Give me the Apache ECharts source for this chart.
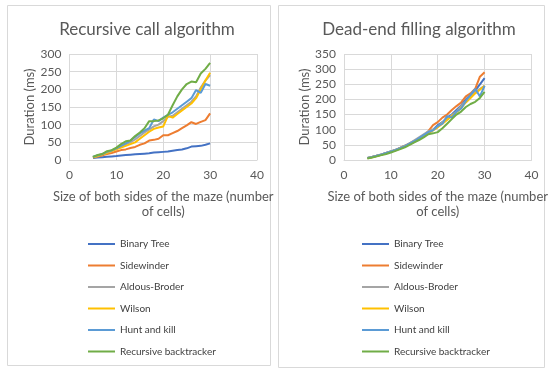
<!DOCTYPE html>
<html>
<head>
<meta charset="utf-8">
<script src="https://cdn.jsdelivr.net/npm/echarts@6/dist/echarts.min.js"></script>
<style>html,body{margin:0;padding:0;background:#fff}#c{width:550px;height:376px}</style>
</head>
<body>
<div id="c"></div>
<script>
const sizes = [5,6,7,8,9,10,11,12,13,14,15,16,17,18,19,20,21,22,23,24,25,26,27,28,29,30];
const seriesNames = ['Binary Tree','Sidewinder','Aldous-Broder','Wilson','Hunt and kill','Recursive backtracker'];
const colors = ['#4472C4','#ED7D31','#A5A5A5','#FFC000','#5B9BD5','#70AD47'];

// Recursive call algorithm (ms)
const recBinaryTree = [6,7,8,9,10,11,13,14,15,16,17,18,19,21,22,23,24,26,28,30,33,38,39,40,43,47];
const recSidewinder = [7,10,13,17,20,24,28,30,34,37,43,47,55,57,60,70,70,76,82,90,98,107,102,108,113,132];
const recAldousBroder = [8,12,16,21,26,32,38,44,50,58,68,78,86,95,100,110,122,125,135,145,155,165,180,205,225,240];
const recWilson = [8,11,16,20,25,30,35,40,45,50,60,70,80,88,92,95,125,120,130,140,150,160,175,200,225,247];
const recHuntKill = [9,13,17,23,27,33,40,47,55,65,75,83,90,115,110,120,128,135,145,155,165,175,198,190,215,210];
const recBacktracker = [9,14,17,25,28,35,45,53,55,68,78,90,110,110,112,118,128,155,180,200,215,222,220,245,258,275];

// Dead-end filling algorithm (ms)
const defBinaryTree = [7,10,14,18,23,28,33,40,47,55,62,70,80,90,100,115,125,140,150,165,180,200,215,230,250,270];
const defSidewinder = [7,10,14,18,23,28,33,40,47,55,63,72,82,95,115,125,140,150,165,178,190,210,220,235,275,290];
const defAldousBroder = [7,10,14,18,23,28,33,40,47,55,65,75,85,95,100,110,125,135,148,160,178,195,210,225,235,245];
const defWilson = [6,9,13,17,22,27,32,38,45,52,60,70,80,88,98,108,120,132,145,158,172,190,205,220,232,245];
const defHuntKill = [7,10,14,18,23,28,33,39,46,54,62,72,82,92,98,112,120,145,140,160,170,195,215,235,210,245];
const defBacktracker = [5,8,12,16,20,25,30,36,42,50,58,66,75,85,88,92,105,120,135,150,160,175,185,192,205,225];

const recData = [recBinaryTree,recSidewinder,recAldousBroder,recWilson,recHuntKill,recBacktracker];
const defData = [defBinaryTree,defSidewinder,defAldousBroder,defWilson,defHuntKill,defBacktracker];

const FONT = 'Lato';
const txt = '#595959';
const grid = '#d9d9d9';

function xAxis(gi){
  return {
    type:'value', gridIndex:gi, min:0, max:40, interval:10,
    name:'Size of both sides of the maze (number\nof cells)',
    nameLocation:'middle', nameGap:29,
    nameTextStyle:{color:txt,fontSize:13,fontFamily:FONT,lineHeight:15,verticalAlign:'top'},
    axisLine:{show:true,lineStyle:{color:grid}},
    axisTick:{show:false},
    axisLabel:{color:txt,fontSize:12,fontFamily:FONT,margin:9},
    splitLine:{show:true,lineStyle:{color:grid,width:1}}
  };
}
function yAxis(gi,max){
  return {
    type:'value', gridIndex:gi, min:0, max:max, interval:50,
    name:'Duration (ms)', nameLocation:'middle', nameGap:33,
    nameTextStyle:{color:txt,fontSize:13,fontFamily:FONT},
    axisLine:{show:false}, axisTick:{show:false},
    axisLabel:{color:txt,fontSize:12,fontFamily:FONT,margin:8},
    splitLine:{show:true,lineStyle:{color:grid,width:1}}
  };
}
const series = [];
seriesNames.forEach((n,i)=>{
  series.push({name:n,type:'line',xAxisIndex:0,yAxisIndex:0,showSymbol:false,
    lineStyle:{width:2,color:colors[i]},itemStyle:{color:colors[i]},
    data:sizes.map((s,k)=>[s,recData[i][k]])});
});
seriesNames.forEach((n,i)=>{
  series.push({name:n,type:'line',xAxisIndex:1,yAxisIndex:1,showSymbol:false,
    lineStyle:{width:2,color:colors[i]},itemStyle:{color:colors[i]},
    data:sizes.map((s,k)=>[s,defData[i][k]])});
});
function legend(left){
  return {orient:'vertical',left:left,top:233,data:seriesNames,icon:'rect',
    itemWidth:27,itemHeight:2,itemGap:9.5,
    textStyle:{color:'#404040',fontSize:10,fontFamily:FONT,lineHeight:12},selectedMode:false};
}
const chart = echarts.init(document.getElementById('c'),null,{renderer:'canvas'});
chart.setOption({
  animation:false,
  color:colors,
  graphic:[
    {type:'rect',shape:{x:7.5,y:5.5,width:263,height:360},style:{fill:'none',stroke:'#d9d9d9',lineWidth:1}},
    {type:'rect',shape:{x:278.5,y:5.5,width:266,height:362},style:{fill:'none',stroke:'#d9d9d9',lineWidth:1}}
  ],
  title:[
    {text:'Recursive call algorithm',left:142,top:16,textAlign:'center',
     textStyle:{color:txt,fontSize:17,fontWeight:'normal',fontFamily:FONT}},
    {text:'Dead-end filling algorithm',left:414,top:16,textAlign:'center',
     textStyle:{color:txt,fontSize:17,fontWeight:'normal',fontFamily:FONT}}
  ],
  grid:[
    {left:69.5,top:54,width:187.5,height:106},
    {left:344,top:54,width:187.5,height:106}
  ],
  xAxis:[xAxis(0),xAxis(1)],
  yAxis:[yAxis(0,300),yAxis(1,350)],
  legend:[legend(83),legend(357)],
  series:series
});
</script>
</body>
</html>
